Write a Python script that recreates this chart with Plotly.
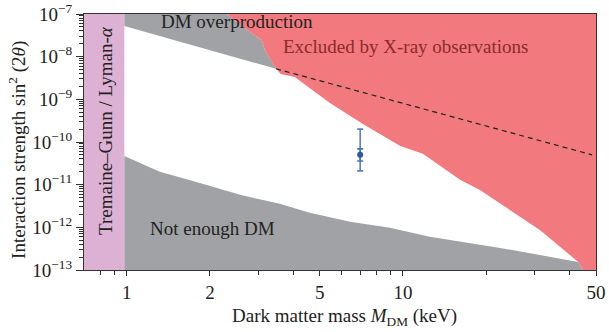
import math
import plotly.graph_objects as go

# ---- data (keV, sin^2(2theta)) ----
tg_x = [0.7, 0.98, 0.98, 0.7]
tg_y = [1e-13, 1e-13, 1e-7, 1e-7]

# red region upper-left edge (top to the kink)
xray_edge_x = [2.30, 2.79, 3.08, 3.16, 3.35, 3.47]
xray_edge_y = [1e-7, 3.8e-8, 2.46e-8, 1.44e-8, 7.5e-9, 5.2e-9]
# red region lower boundary (from kink to bottom)
xray_low_x = [3.61, 4.06, 4.34, 5.44, 7.16, 9.78, 11.8, 16.1, 19.0, 31.3, 43.1, 44.9]
xray_low_y = [3.94e-9, 3.35e-9, 2.42e-9, 8.2e-10, 2.65e-10, 8.1e-11, 5.3e-11,
              1.3e-11, 7.5e-12, 8.7e-13, 1.55e-13, 1e-13]

# overproduction lower boundary
over_x = [0.98, 3.47]
over_y = [5.2e-8, 5.2e-9]

# not enough DM upper boundary
under_x = [0.98, 1.317, 1.84, 2.57, 3.58, 4.60, 6.43, 8.97, 12.5, 22.5, 43.1, 44.9]
under_y = [4.7e-11, 2.0e-11, 1.1e-11, 5.8e-12, 3.55e-12, 2.19e-12, 1.35e-12,
           9.8e-13, 6.0e-13, 3.3e-13, 1.55e-13, 1e-13]

# dashed line
dash_x = [3.47, 48.4]
dash_y = [5.2e-9, 5.0e-11]

# signal point
pt_x = [7.0]
pt_y = [5.0e-11]
pt_outer_hi = [2.0e-10]
pt_outer_lo = [2.1e-11]
pt_inner_hi = [6.9e-11]
pt_inner_lo = [3.6e-11]

x_min, x_max = 0.7, 50
y_min, y_max = 1e-13, 1e-7

xticks = [1, 2, 5, 10, 50]
xtick_text = ["1", "2", "5", "10", "50"]
x_minor = [0.8, 0.9, 3, 4, 6, 7, 8, 9, 20, 30, 40]
yticks = [1e-13, 1e-12, 1e-11, 1e-10, 1e-9, 1e-8, 1e-7]
ytick_text = ["10<sup>−13</sup>", "10<sup>−12</sup>", "10<sup>−11</sup>", "10<sup>−10</sup>",
              "10<sup>−9</sup>", "10<sup>−8</sup>", "10<sup>−7</sup>"]
y_minor = [m * 10 ** e for e in range(-13, -7) for m in range(2, 10)]

PINK = "#dcb1d4"
GRAY = "#a1a2a5"
RED = "#f27a7e"
FONT = "Liberation Serif, Times New Roman, serif"
FS = 19

fig = go.Figure()

# Tremaine-Gunn band
fig.add_trace(go.Scatter(x=tg_x, y=tg_y, fill="toself", fillcolor=PINK,
                         mode="lines", line=dict(width=0), hoverinfo="skip", showlegend=False))

# DM overproduction
gx = [0.98] + over_x + xray_edge_x[::-1][1:] + [0.98]
gy = [1e-7] + over_y + xray_edge_y[::-1][1:] + [1e-7]
fig.add_trace(go.Scatter(x=gx, y=gy, fill="toself", fillcolor=GRAY,
                         mode="lines", line=dict(width=0), hoverinfo="skip", showlegend=False))

# Not enough DM
ux = [0.98] + under_x + [0.98]
uy = [1e-13] + under_y + [1e-13]
fig.add_trace(go.Scatter(x=ux, y=uy, fill="toself", fillcolor=GRAY,
                         mode="lines", line=dict(width=0), hoverinfo="skip", showlegend=False))

# X-ray exclusion
rx = xray_edge_x + xray_low_x + [x_max, x_max, xray_edge_x[0]]
ry = xray_edge_y + xray_low_y + [y_min, y_max, y_max]
fig.add_trace(go.Scatter(x=rx, y=ry, fill="toself", fillcolor=RED,
                         mode="lines", line=dict(width=0), hoverinfo="skip", showlegend=False))

# dashed line
fig.add_trace(go.Scatter(x=dash_x, y=dash_y, mode="lines",
                         line=dict(color="#222222", width=1.2, dash="5px,4px"),
                         hoverinfo="skip", showlegend=False))

# signal point: outer and inner error bars
fig.add_trace(go.Scatter(
    x=pt_x, y=pt_y, mode="markers", marker=dict(size=1, color="rgba(0,0,0,0)"),
    error_y=dict(type="data", symmetric=False,
                 array=[h - c for h, c in zip(pt_outer_hi, pt_y)],
                 arrayminus=[c - l for l, c in zip(pt_outer_lo, pt_y)],
                 color="#5b7fc1", thickness=1.6, width=3),
    hoverinfo="skip", showlegend=False))
fig.add_trace(go.Scatter(
    x=pt_x, y=pt_y, mode="markers", marker=dict(size=6, color="#2a58a8"),
    error_y=dict(type="data", symmetric=False,
                 array=[h - c for h, c in zip(pt_inner_hi, pt_y)],
                 arrayminus=[c - l for l, c in zip(pt_inner_lo, pt_y)],
                 color="#4a70b8", thickness=1.6, width=3),
    hoverinfo="skip", showlegend=False))


def label(text, x, y, color="#222", angle=0):
    return dict(text=text, xref="paper", yref="paper", x=x, y=y,
                xanchor="center", yanchor="middle", textangle=angle,
                showarrow=False, font=dict(family=FONT, size=FS, color=color))


fig.update_layout(
    width=609, height=332,
    margin=dict(l=84, r=13, t=14, b=62, autoexpand=False),
    paper_bgcolor="white", plot_bgcolor="white",
    font=dict(family=FONT, size=FS, color="#222222"),
    xaxis=dict(type="log", range=[math.log10(x_min), math.log10(x_max)],
               tickvals=xticks, ticktext=xtick_text, automargin=False,
               ticks="outside", ticklen=5, tickwidth=1, tickcolor="#333",
               minor=dict(tickvals=x_minor, ticks="outside", ticklen=4, tickwidth=1, tickcolor="#333"),
               showgrid=False, zeroline=False,
               showline=True, mirror=True, linecolor="#333", linewidth=1.2,
               tickfont=dict(family=FONT, size=FS, color="#222")),
    yaxis=dict(type="log", range=[-13, -7],
               tickvals=yticks, ticktext=ytick_text, automargin=False,
               ticks="outside", ticklen=7, tickwidth=1, tickcolor="#333",
               minor=dict(tickvals=y_minor, ticks="outside", ticklen=4, tickwidth=0.8, tickcolor="#333"),
               showgrid=False, zeroline=False,
               showline=True, mirror=True, linecolor="#333", linewidth=1.2,
               tickfont=dict(family=FONT, size=FS, color="#222")),
    annotations=[
        label("DM overproduction", 0.299, 0.969),
        label("Excluded by X-ray observations", 0.627, 0.875, color="#8c2a2a"),
        label("Not enough DM", 0.251, 0.164),
        label("Tremaine–Gunn / Lyman-<i>α</i>", 0.043, 0.543, angle=-90),
        label("Interaction strength sin<sup>2</sup> (2<i>θ</i>)", -0.129, 0.469, angle=-90),
        label("Dark matter mass <i>M</i><sub>DM</sub> (keV)", 0.508, -0.184),
    ],
)

fig.write_html("out.html", config={"displayModeBar": False},
               post_script="document.body.style.margin='0';")
